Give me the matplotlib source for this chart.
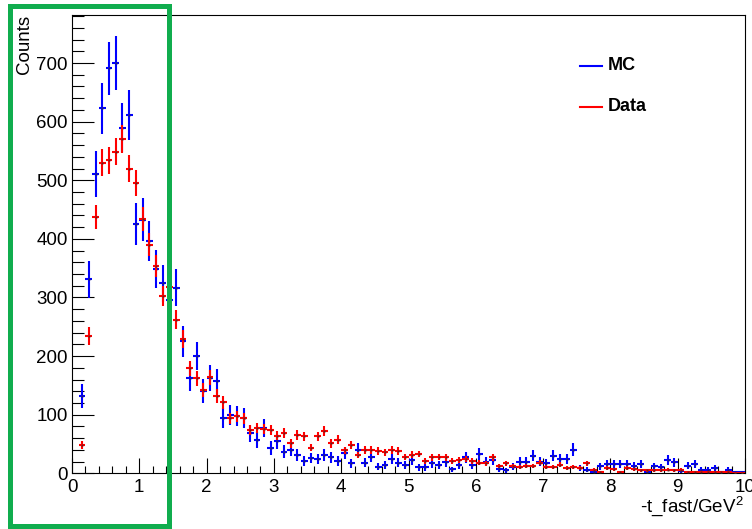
import numpy as np
import matplotlib
matplotlib.use('Agg')
import matplotlib.pyplot as plt
from matplotlib.lines import Line2D
from matplotlib.patches import Rectangle
from matplotlib.ticker import MultipleLocator

plt.rcParams['font.family'] = ['Liberation Sans', 'DejaVu Sans']
plt.rcParams['mathtext.default'] = 'regular'

# histogram binning: 0.1 GeV^2 bins starting at 0.1
bin_lo = 0.1
bin_width = 0.1

mc_counts = [132, 331, 511, 623, 691, 700, 590, 611, 425, 433,
             396, 349, 324, 295, 317, 225, 162, 200, 140, 163,
             157, 94, 100, 97, 94, 68, 57, 77, 43, 55,
             37, 40, 31, 21, 26, 24, 31, 27, 21, 34,
             17, 40, 18, 28, 11, 14, 24, 18, 14, 22,
             10, 10, 17, 14, 19, 7, 14, 27, 14, 33,
             20, 23, 7, 5, 11, 20, 20, 30, 20, 17,
             30, 24, 24, 40, 9, 6, 3, 12, 16, 16,
             16, 16, 13, 16, 3, 12, 10, 23, 19, 4,
             13, 16, 6, 6, 9, 2, 6, 2, 2]

data_counts = [48, 234, 437, 530, 534, 549, 570, 520, 495, 434,
               390, 354, 303, 318, 262, 229, 179, 162, 142, 164,
               132, 121, 94, 97, 94, 74, 77, 75, 74, 64,
               69, 51, 65, 63, 44, 63, 73, 51, 57, 39,
               48, 31, 40, 40, 38, 36, 40, 38, 28, 32,
               33, 21, 27, 28, 27, 21, 23, 24, 21, 18,
               17, 27, 13, 17, 13, 11, 13, 13, 18, 11,
               11, 15, 9, 11, 9, 17, 6, 3, 9, 7,
               3, 9, 7, 5, 5, 5, 5, 6, 5, 6,
               2, 3, 2, 2, 2, 2, 2, 1, 1]

# MC is normalised by this factor, so its errors are sqrt(scale * N)
mc_scale = 3.0

mc = np.array(mc_counts, dtype=float)
data = np.array(data_counts, dtype=float)
centers = bin_lo + bin_width * (np.arange(len(mc)) + 0.5)
mc_err = np.sqrt(mc_scale * mc)
data_err = np.sqrt(data)

W, H = 752, 529
fig = plt.figure(figsize=(W / 100, H / 100), dpi=100)
ax = fig.add_axes([72 / W, 1 - 473.3 / H, 673 / W, (473.3 - 15) / H])

ax.errorbar(centers, mc, xerr=bin_width / 2, yerr=mc_err, fmt='s', ms=1.4,
            mew=0, mfc='#202060', ecolor='blue', elinewidth=1.5, capsize=0,
            zorder=3)
ax.errorbar(centers, data, xerr=bin_width / 2, yerr=data_err, fmt='s', ms=1.4,
            mew=0, mfc='#602020', ecolor='red', elinewidth=1.5, capsize=0,
            zorder=4)

ax.set_xlim(0, 10)
ax.set_ylim(0, 782)
ax.xaxis.set_major_locator(MultipleLocator(1))
ax.xaxis.set_minor_locator(MultipleLocator(0.2))
ax.yaxis.set_major_locator(MultipleLocator(100))
ax.yaxis.set_minor_locator(MultipleLocator(20))

ax.tick_params(axis='both', which='both', direction='in', width=0.8,
               top=False, right=False, labelsize=13.5, colors='black')
ax.tick_params(axis='y', which='major', length=15.6, pad=3)
ax.tick_params(axis='y', which='minor', length=8.4)
ax.tick_params(axis='x', which='major', length=10.8, pad=4)
ax.tick_params(axis='x', which='minor', length=5.3)
for sp in ax.spines.values():
    sp.set_linewidth(0.8)
    sp.set_color('black')

ax.text(-47 / 673, 1.0, 'Counts', rotation=90, ha='center', va='top',
        fontsize=13.5, transform=ax.transAxes)
fig.text(744 / W, 1 - 512 / H, '-t_fast/GeV$^{2}$', ha='right', va='baseline',
         fontsize=13.5)

# legend entries
for y_px, col, lab in [(65.5, 'blue', 'MC'), (107, 'red', 'Data')]:
    yf = 1 - y_px / H
    fig.add_artist(Line2D([580 / W, 602 / W], [yf, yf], color=col, lw=1.5,
                          transform=fig.transFigure))
    fig.text(608 / W, yf, lab, ha='left', va='center', fontsize=13,
             fontweight='bold')

# highlight box around the low -t region
box = Rectangle((9.5 / W, 1 - 525.5 / H), 159 / W, 519.5 / H,
                transform=fig.transFigure, fill=False, edgecolor='#10ad4e',
                lw=3.6, zorder=10)
fig.add_artist(box)

fig.savefig('out.png', dpi=100)
